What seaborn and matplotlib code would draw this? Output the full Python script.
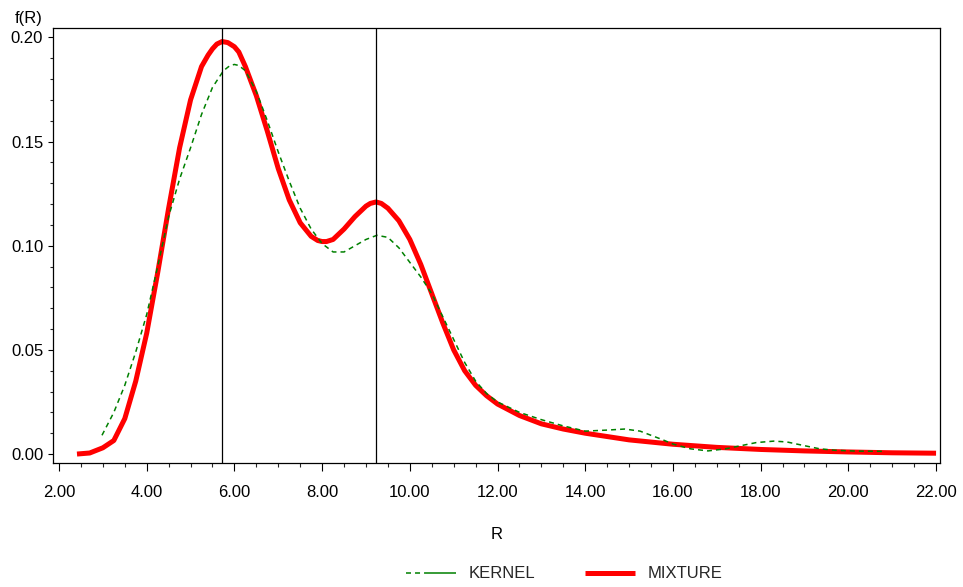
import matplotlib
matplotlib.use("Agg")
import matplotlib.pyplot as plt
from matplotlib.lines import Line2D
from matplotlib.ticker import MultipleLocator, FormatStrFormatter
import seaborn as sns
import pandas as pd

# Mixture density f(R)
mixture_r = [2.41, 2.7, 3.0, 3.25, 3.5, 3.75, 4.0, 4.25, 4.5, 4.75, 5.0, 5.25, 5.4, 5.5,
             5.6, 5.72, 5.85, 6.0, 6.1, 6.25, 6.5, 6.75, 7.0, 7.25, 7.5, 7.75, 7.9, 8.0,
             8.1, 8.25, 8.5, 8.75, 9.0, 9.1, 9.23, 9.35, 9.5, 9.75, 10.0, 10.25, 10.5,
             10.75, 11.0, 11.25, 11.5, 11.75, 12.0, 12.5, 13.0, 13.5, 14.0, 15.0, 16.0,
             17.0, 18.0, 19.0, 20.0, 21.0, 22.0]
mixture_f = [0.000, 0.0005, 0.003, 0.0065, 0.017, 0.035, 0.058, 0.087, 0.118, 0.147, 0.170,
             0.186, 0.1915, 0.1945, 0.1968, 0.198, 0.1975, 0.1955, 0.193, 0.186, 0.172,
             0.155, 0.137, 0.122, 0.111, 0.1045, 0.1025, 0.102, 0.102, 0.103, 0.108,
             0.114, 0.119, 0.1203, 0.121, 0.1203, 0.118, 0.112, 0.103, 0.091, 0.077,
             0.063, 0.050, 0.040, 0.033, 0.028, 0.024, 0.0185, 0.0145, 0.012, 0.0100,
             0.0068, 0.0047, 0.0032, 0.0022, 0.0015, 0.0010, 0.0006, 0.0004]

# Kernel density estimate f(R)
kernel_r = [2.98, 3.25, 3.5, 3.75, 4.0, 4.25, 4.5, 4.75, 5.0, 5.25, 5.5, 5.75, 5.9, 6.0,
            6.1, 6.25, 6.5, 6.75, 7.0, 7.25, 7.5, 7.75, 8.0, 8.25, 8.5, 8.75, 9.0, 9.25,
            9.5, 9.75, 10.0, 10.25, 10.5, 10.75, 11.0, 11.25, 11.5, 11.75, 12.0, 12.5,
            13.0, 13.5, 14.0, 14.5, 14.9, 15.25, 15.5, 15.75, 16.0, 16.4, 16.8, 17.2,
            17.5, 17.9, 18.3, 18.6, 19.0, 19.35, 19.7, 20.2, 20.8]
kernel_f = [0.009, 0.020, 0.033, 0.049, 0.067, 0.090, 0.114, 0.132, 0.147, 0.163, 0.176,
            0.184, 0.1865, 0.187, 0.1865, 0.184, 0.174, 0.160, 0.145, 0.131, 0.118,
            0.108, 0.101, 0.097, 0.097, 0.100, 0.103, 0.105, 0.104, 0.099, 0.092,
            0.085, 0.077, 0.066, 0.055, 0.044, 0.035, 0.029, 0.025, 0.020, 0.0165,
            0.0135, 0.011, 0.0115, 0.012, 0.011, 0.009, 0.007, 0.0048, 0.0025, 0.0015,
            0.0025, 0.0038, 0.0055, 0.0062, 0.0058, 0.0040, 0.0025, 0.0018, 0.0014,
            0.0013]

# Component locations marked with reference lines
component_means = [5.72, 9.23]

x_ticks = [2, 4, 6, 8, 10, 12, 14, 16, 18, 20, 22]
y_ticks = [0.00, 0.05, 0.10, 0.15, 0.20]

sns.set_style("white")
plt.rcParams["font.family"] = ["Liberation Sans", "DejaVu Sans"]
plt.rcParams["lines.scale_dashes"] = False

mix_df = pd.DataFrame({"R": mixture_r, "f": mixture_f})
ker_df = pd.DataFrame({"R": kernel_r, "f": kernel_f})

fig = plt.figure(figsize=(9.63, 5.87), dpi=100)
ax = fig.add_axes([53 / 963, 124 / 587, 887 / 963, 435 / 587])

red = "#ff0000"
green = "#008000"
dash = (0, (3.6, 2.9))

sns.lineplot(data=mix_df, x="R", y="f", ax=ax, color=red, linewidth=3.6,
             solid_capstyle="butt", solid_joinstyle="round", zorder=2)
sns.lineplot(data=ker_df, x="R", y="f", ax=ax, color=green, linewidth=1.1,
             linestyle=dash, zorder=3)
for m in component_means:
    ax.axvline(m, color="black", linewidth=0.9, zorder=4)

ax.set_xlim(1.863, 22.09)
ax.set_ylim(-0.0043, 0.2045)
ax.set_xticks(x_ticks)
ax.set_yticks(y_ticks)
ax.xaxis.set_major_formatter(FormatStrFormatter("%.2f"))
ax.yaxis.set_major_formatter(FormatStrFormatter("%.2f"))
ax.xaxis.set_minor_locator(MultipleLocator(0.5))
ax.yaxis.set_minor_locator(MultipleLocator(0.01))

for s in ax.spines.values():
    s.set_color("black")
    s.set_linewidth(0.9)

ax.tick_params(axis="x", which="major", direction="out", length=6, width=0.8,
               pad=10, labelsize=12, colors="black", bottom=True)
ax.tick_params(axis="x", which="minor", direction="out", length=3, width=0.8,
               bottom=True)
ax.tick_params(axis="y", which="major", direction="out", length=3.6, width=0.8,
               pad=3.5, labelsize=12, colors="black", left=True)
ax.tick_params(axis="y", which="minor", direction="out", length=2.5, width=0.8,
               left=True)

ax.set_xlabel("R", fontsize=12, color="black")
ax.xaxis.set_label_coords(0.5, -0.147)
ax.set_ylabel("")
fig.text(29 / 963, 1 - 18 / 587, "f(R)", ha="center", va="center",
         fontsize=12, color="black")

handles = [
    Line2D([], [], color=green, linewidth=1.1,
           dashes=(3.6, 2.9, 3.6, 2.9, 23, 5)),
    Line2D([], [], color=red, linewidth=3.6, solid_capstyle="butt"),
]
fig.legend(handles, ["KERNEL", "MIXTURE"], loc="center",
           bbox_to_anchor=(564 / 963, 13 / 587), ncol=2, frameon=False,
           fontsize=12, handlelength=3.0, handletextpad=0.75,
           columnspacing=3.0, borderpad=0)

fig.savefig("out.png", dpi=100, facecolor="white")
